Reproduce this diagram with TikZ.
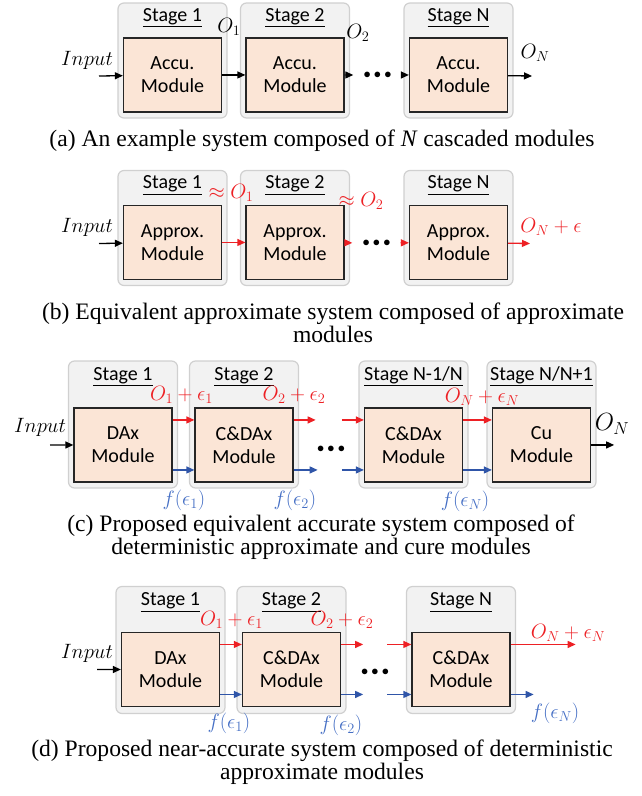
\documentclass[tikz,border=0pt]{standalone}
\usepackage{fontspec}
\setsansfont{Carlito}
\newfontfamily\capfont{Liberation Serif}
\usetikzlibrary{positioning,arrows.meta}

\definecolor{modfill}{RGB}{251,229,214}
\definecolor{stagefill}{RGB}{242,242,242}
\definecolor{stageline}{RGB}{208,208,208}
\definecolor{errred}{RGB}{237,32,36}
\definecolor{errblue}{RGB}{47,85,168}
\definecolor{ftext}{RGB}{68,110,196}

\begin{document}
\begin{tikzpicture}[x=1pt, y=-1pt]
\tikzstyle{stage}=[rectangle, rounded corners=6pt, draw=stageline, fill=stagefill, line width=1.2pt, minimum width=109pt, inner sep=0pt]
\tikzstyle{module}=[rectangle, draw=black!85, fill=modfill, line width=1.3pt, minimum width=98pt, minimum height=74pt, inner sep=0pt, align=center, font=\sffamily\fontsize{20}{23}\selectfont]
\tikzstyle{title}=[anchor=base, inner sep=0pt, font=\sffamily\fontsize{20}{23}\selectfont]
\tikzstyle{connect}=[-{Triangle[length=8pt, width=7pt]}, line width=1.3pt]
\tikzstyle{lbl}=[inner sep=1pt, font=\fontsize{20}{24}\selectfont]
\tikzstyle{dots}=[inner xsep=10pt, font=\fontsize{14}{14}\selectfont]
\tikzstyle{caption}=[align=center, inner sep=0pt, font=\capfont\fontsize{23.6}{23}\selectfont]

\useasboundingbox (0,0) rectangle (642,796);

  % (a) accurate chain
  \node[stage, minimum height=115pt] (as1) at (172.5,60.5) {};
  \node[stage, minimum height=115pt] (as2) at (295,60.5) {};
  \node[stage, minimum height=115pt] (asN) at (458.5,60.5) {};
  \node[module, above=6pt of as1.south] (am1) {Accu.\\Module};
  \node[module, above=6pt of as2.south] (am2) {Accu.\\Module};
  \node[module, above=6pt of asN.south] (amN) {Accu.\\Module};
  \node[title] (at1) at ([yshift=-19pt]as1.north) {\underline{Stage 1}};
  \node[title] (at2) at ([yshift=-19pt]as2.north) {\underline{Stage 2}};
  \node[title] (atN) at ([yshift=-19pt]asN.north) {\underline{Stage N}};
  \node[lbl] (ain) at (87,60) {$Input$};
  \coordinate (ain0) at (99,76);
  \node[dots] (adots) at (377.5,75) {$\bullet\bullet\bullet$};
  \coordinate (aout) at (532,76);
  \node[lbl] (ao1) at (229,27) {$O_1$};
  \node[lbl] (ao2) at (358,33) {$O_2$};
  \node[lbl] (aoN) at (535,53) {$O_N$};
  \path (ain0) edge [connect] (am1)
        (am1) edge [connect] (am2)
        (am2) edge [connect] (adots)
        (adots) edge [connect] (amN)
        (amN) edge [connect] (aout);
  \node[caption] (capa) at (322,141) {(a) An example system composed of \textit{N} cascaded modules};

  % (b) approximate chain
  \node[stage, minimum height=115pt] (bs1) at (172.5,228) {};
  \node[stage, minimum height=115pt] (bs2) at (295,228) {};
  \node[stage, minimum height=115pt] (bsN) at (458.5,228) {};
  \node[module, above=6pt of bs1.south] (bm1) {Approx.\\Module};
  \node[module, above=6pt of bs2.south] (bm2) {Approx.\\Module};
  \node[module, above=6pt of bsN.south] (bmN) {Approx.\\Module};
  \node[title] (bt1) at ([yshift=-19pt]bs1.north) {\underline{Stage 1}};
  \node[title] (bt2) at ([yshift=-19pt]bs2.north) {\underline{Stage 2}};
  \node[title] (btN) at ([yshift=-19pt]bsN.north) {\underline{Stage N}};
  \node[lbl] (bin) at (87,227) {$Input$};
  \coordinate (bin0) at (99,243.5);
  \node[dots] (bdots) at (376.5,243) {$\bullet\bullet\bullet$};
  \coordinate (bout) at (530,243.5);
  \node[lbl, errred] (bo1) at (231,193) {$\approx O_1$};
  \node[lbl, errred] (bo2) at (361,201) {$\approx O_2$};
  \node[lbl, errred] (boN) at (551,227) {$O_N+\epsilon$};
  \path (bin0) edge [connect] (bm1)
        (bm1) edge [connect, errred] (bm2)
        (bm2) edge [connect, errred] (bdots)
        (bdots) edge [connect, errred] (bmN)
        (bmN) edge [connect, errred] (bout);
  \node[caption] (capb) at (333,323) {(b) Equivalent approximate system composed of approximate\\modules};

  % (c) accurate chain with cure module
  \node[stage, minimum height=127pt] (cs1) at (123,424.5) {};
  \node[stage, minimum height=127pt] (cs2) at (244,424.5) {};
  \node[stage, minimum height=127pt] (cs3) at (413.5,424.5) {};
  \node[stage, minimum height=127pt] (cs4) at (541.5,424.5) {};
  \node[module, above=6pt of cs1.south] (cm1) {DAx\\Module};
  \node[module, above=6pt of cs2.south] (cm2) {C\&DAx\\Module};
  \node[module, above=6pt of cs3.south] (cm3) {C\&DAx\\Module};
  \node[module, above=6pt of cs4.south] (cm4) {Cu\\Module};
  \node[title] (ct1) at ([yshift=-20pt]cs1.north) {\underline{Stage 1}};
  \node[title] (ct2) at ([yshift=-20pt]cs2.north) {\underline{Stage 2}};
  \node[title] (ct3) at ([yshift=-20pt]cs3.north) {\underline{Stage N-1/N}};
  \node[title] (ct4) at ([yshift=-20pt]cs4.north) {\underline{Stage N/N+1}};
  \node[lbl] (cin) at (40,427) {$Input$};
  \coordinate (cin0) at (50,445);
  \coordinate (cr2) at ([xshift=22pt, yshift=25pt]cm2.east);
  \coordinate (cb2) at ([xshift=24pt, yshift=-25pt]cm2.east);
  \coordinate (cr3) at ([xshift=-22pt, yshift=25pt]cm3.west);
  \coordinate (cb3) at ([xshift=-22pt, yshift=-25pt]cm3.west);
  \coordinate (cout) at ([xshift=23pt]cm4.east);
  \node[dots] (cdots) at (331,449) {$\bullet\bullet\bullet$};
  \node[lbl, errred] (co1) at (181.5,395) {$O_1+\epsilon_1$};
  \node[lbl, errred] (co2) at (294,395) {$O_2+\epsilon_2$};
  \node[lbl, errred] (coN) at (482,397) {$O_N+\epsilon_N$};
  \node[lbl, ftext] (cf1) at (184,500) {$f(\epsilon_1)$};
  \node[lbl, ftext] (cf2) at (295,500) {$f(\epsilon_2)$};
  \node[lbl, ftext] (cfN) at (465,501) {$f(\epsilon_N)$};
  \node[lbl, font=\fontsize{24}{28}\selectfont] (con) at (612,424) {$O_N$};
  \path (cin0) edge [connect] (cm1)
        ([yshift=25pt]cm1.east) edge [connect, errred] ([yshift=25pt]cm2.west)
        ([yshift=-25pt]cm1.east) edge [connect, errblue] ([yshift=-25pt]cm2.west)
        ([yshift=25pt]cm2.east) edge [connect, errred] (cr2)
        ([yshift=-25pt]cm2.east) edge [connect, errblue] (cb2)
        (cr3) edge [connect, errred] ([yshift=25pt]cm3.west)
        (cb3) edge [connect, errblue] ([yshift=-25pt]cm3.west)
        ([yshift=25pt]cm3.east) edge [connect, errred] ([yshift=25pt]cm4.west)
        ([yshift=-25pt]cm3.east) edge [connect, errblue] ([yshift=-25pt]cm4.west)
        (cm4) edge [connect] (cout);
  \node[caption] (capc) at (321,537) {(c) Proposed equivalent accurate system composed of\\deterministic approximate and cure modules};

  % (d) near-accurate chain
  \node[stage, minimum height=127pt] (ds1) at (170.5,650) {};
  \node[stage, minimum height=127pt] (ds2) at (291.5,650) {};
  \node[stage, minimum height=127pt] (ds3) at (461,650) {};
  \node[module, above=7pt of ds1.south] (dm1) {DAx\\Module};
  \node[module, above=7pt of ds2.south] (dm2) {C\&DAx\\Module};
  \node[module, above=7pt of ds3.south] (dm3) {C\&DAx\\Module};
  \node[title] (dt1) at ([yshift=-20pt]ds1.north) {\underline{Stage 1}};
  \node[title] (dt2) at ([yshift=-20pt]ds2.north) {\underline{Stage 2}};
  \node[title] (dt3) at ([yshift=-20pt]ds3.north) {\underline{Stage N}};
  \node[lbl] (din) at (87,653) {$Input$};
  \coordinate (din0) at (97,669.5);
  \coordinate (dr2) at ([xshift=22pt, yshift=25pt]dm2.east);
  \coordinate (db2) at ([xshift=22pt, yshift=-25pt]dm2.east);
  \coordinate (dr3) at ([xshift=-24pt, yshift=25pt]dm3.west);
  \coordinate (db3) at ([xshift=-24pt, yshift=-25pt]dm3.west);
  \coordinate (drout) at ([xshift=65pt, yshift=25pt]dm3.east);
  \coordinate (dbout) at ([xshift=23pt, yshift=-25pt]dm3.east);
  \node[dots] (ddots) at (375,672) {$\bullet\bullet\bullet$};
  \node[lbl, errred] (do1) at (231.5,620) {$O_1+\epsilon_1$};
  \node[lbl, errred] (do2) at (342,620) {$O_2+\epsilon_2$};
  \node[lbl, errred] (doN) at (568,633) {$O_N+\epsilon_N$};
  \node[lbl, ftext] (df1) at (229,723) {$f(\epsilon_1)$};
  \node[lbl, ftext] (df2) at (341,725) {$f(\epsilon_2)$};
  \node[lbl, ftext] (dfN) at (555,713) {$f(\epsilon_N)$};
  \path (din0) edge [connect] (dm1)
        ([yshift=25pt]dm1.east) edge [connect, errred] ([yshift=25pt]dm2.west)
        ([yshift=-25pt]dm1.east) edge [connect, errblue] ([yshift=-25pt]dm2.west)
        ([yshift=25pt]dm2.east) edge [connect, errred] (dr2)
        ([yshift=-25pt]dm2.east) edge [connect, errblue] (db2)
        (dr3) edge [connect, errred] ([yshift=25pt]dm3.west)
        (db3) edge [connect, errblue] ([yshift=-25pt]dm3.west)
        ([yshift=25pt]dm3.east) edge [connect, errred] (drout)
        ([yshift=-25pt]dm3.east) edge [connect, errblue] (dbout);
  \node[caption] (capd) at (322,762) {(d) Proposed near-accurate system composed of deterministic\\approximate modules};

\end{tikzpicture}
\end{document}
